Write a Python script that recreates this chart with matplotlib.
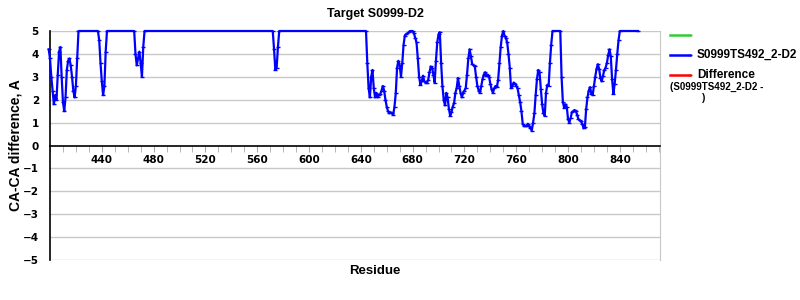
import matplotlib
matplotlib.use('Agg')
import matplotlib.pyplot as plt
from matplotlib.lines import Line2D
from matplotlib.ticker import MultipleLocator

# residue numbers and CA-CA difference
residues = [
    399, 400, 401, 402, 403, 404, 405, 406, 407, 408, 409, 410, 411, 412, 413,
    414, 415, 416, 417, 418, 419, 420, 421, 422,
    437, 438, 439, 440, 441, 442, 443, 444,
    465, 466, 467, 468, 469, 470, 471, 472, 473,
    572, 573, 574, 575, 576, 577,
    644, 645, 646, 647, 648, 649, 650, 651, 652, 653, 654, 655, 656, 657, 658,
    659, 660, 661, 662, 663, 664, 665, 666, 667, 668, 669, 670, 671, 672, 673,
    674, 675, 676, 677, 678, 679, 680, 681, 682, 683, 684, 685, 686, 687, 688,
    689, 690, 691, 692, 693, 694, 695, 696, 697, 698, 699, 700, 701, 702, 703,
    704, 705, 706, 707, 708, 709, 710, 711, 712, 713, 714, 715, 716, 717, 718,
    719, 720, 721, 722, 723, 724, 725, 726, 727, 728, 729, 730, 731, 732, 733,
    734, 735, 736, 737, 738, 739, 740, 741, 742, 743, 744, 745, 746, 747, 748,
    749, 750, 751, 752, 753, 754, 755, 756, 757, 758, 759, 760, 761, 762, 763,
    764, 765, 766, 767, 768, 769, 770, 771, 772, 773, 774, 775, 776, 777, 778,
    779, 780, 781, 782, 783, 784, 785, 786, 787, 788,
    794, 795, 796, 797, 798, 799, 800, 801, 802, 803, 804, 805, 806, 807, 808,
    809, 810, 811, 812, 813, 814, 815, 816, 817, 818, 819, 820, 821, 822, 823,
    824, 825, 826, 827, 828, 829, 830, 831, 832, 833, 834, 835, 836, 837, 838,
    839, 840, 854,
]
ca_diff = [
    4.2, 3.8, 3.0, 2.4, 1.8, 2.2, 2.0, 3.1, 4.1, 4.3, 3.0, 1.9, 1.5, 2.1, 3.3,
    3.7, 3.8, 3.5, 3.0, 2.4, 2.1, 2.6, 3.8, 5.0,
    5.0, 4.6, 3.6, 2.8, 2.2, 2.6, 4.1, 5.0,
    5.0, 4.0, 3.5, 3.8, 4.1, 3.6, 3.0, 4.3, 5.0,
    5.0, 4.2, 3.3, 3.4, 4.3, 5.0,
    5.0, 3.6, 2.5, 2.1, 3.0, 3.3, 2.5, 2.1, 2.3, 2.1, 2.2, 2.25, 2.4, 2.6, 2.4,
    2.0, 1.7, 1.5, 1.4, 1.45, 1.4, 1.35, 1.7, 2.3, 3.4, 3.7, 3.5, 3.0, 3.6, 4.4,
    4.8, 4.85, 4.9, 4.95, 5.0, 5.0, 5.0, 4.9, 4.7, 4.5, 3.8, 3.0, 2.65, 2.8, 3.05,
    2.8, 2.75, 2.75, 2.85, 3.2, 3.45, 3.4, 3.1, 2.75, 3.7, 4.5, 4.85, 4.95, 3.6, 2.6,
    2.0, 1.75, 2.3, 2.1, 1.6, 1.3, 1.45, 1.7, 1.85, 2.3, 2.5, 2.95, 2.6, 2.3, 2.1,
    2.3, 2.4, 2.5, 3.1, 3.8, 4.2, 3.9, 3.55, 3.5, 3.45, 3.0, 2.6, 2.4, 2.3, 2.6,
    2.9, 3.1, 3.2, 3.05, 3.1, 3.0, 2.7, 2.45, 2.3, 2.5, 2.6, 2.55, 2.85, 3.6, 4.3,
    4.8, 5.0, 4.8, 4.7, 4.5, 4.0, 3.4, 2.5, 2.6, 2.75, 2.7, 2.6, 2.5, 2.2, 1.9,
    1.5, 0.95, 0.85, 0.85, 0.85, 0.95, 0.85, 0.75, 0.65, 1.0, 1.4, 2.2, 2.9, 3.3, 3.2,
    2.45, 1.8, 1.4, 1.3, 2.3, 2.65, 2.6, 3.6, 4.4, 5.0,
    5.0, 3.0, 1.9, 1.65, 1.8, 1.7, 1.15, 1.0, 1.2, 1.45, 1.5, 1.55, 1.5, 1.35, 1.15,
    1.1, 1.05, 0.95, 0.75, 0.8, 1.6, 2.1, 2.4, 2.55, 2.25, 2.2, 2.6, 3.0, 3.35, 3.55,
    3.35, 2.95, 2.8, 3.05, 3.3, 3.4, 3.6, 3.95, 4.2, 3.9, 2.9, 2.25, 2.7, 3.3, 4.0,
    4.6, 5.0, 5.0,
]
y_ticks = [-5, -4, -3, -2, -1, 0, 1, 2, 3, 4, 5]
x_ticks = [440, 480, 520, 560, 600, 640, 680, 720, 760, 800, 840]

model_name = 'S0999TS492_2-D2'
title = 'Target S0999-D2'
sans = 'Liberation Sans'

fig = plt.figure(figsize=(8, 3), dpi=100)
ax = fig.add_axes([50 / 800, 1 - 260 / 300, 610 / 800, 229 / 300])

ax.plot(residues, ca_diff, color='#0000ff', linewidth=1.6, marker='_',
        markersize=3.5, markeredgewidth=1, clip_on=False, zorder=3)

ax.set_xlim(400, 871)
ax.set_ylim(-5, 5)

# horizontal grid
for y in y_ticks:
    if y != 0:
        ax.axhline(y, color='#c8c8c8', linewidth=1, zorder=1)

# x axis sits on zero
ax.spines['bottom'].set_position(('data', 0))
ax.spines['bottom'].set_color('black')
ax.spines['bottom'].set_linewidth(1.2)
ax.spines['left'].set_color('black')
ax.spines['left'].set_linewidth(1.2)
ax.spines['top'].set_visible(False)
ax.spines['right'].set_color('#c8c8c8')

ax.xaxis.set_minor_locator(MultipleLocator(10))
ax.set_xticks(x_ticks)
ax.tick_params(axis='x', which='both', direction='out', length=4, color='#aaaaaa',
               labelsize=7.5, pad=3)
ax.set_yticks(y_ticks)
ax.set_yticklabels([str(v).replace('-', '\u2212') for v in y_ticks])
ax.tick_params(axis='y', length=0, labelsize=7.5, pad=8)
for lab in ax.get_xticklabels() + ax.get_yticklabels():
    lab.set_fontweight('bold')

fig.text(375 / 800, 1 - 14 / 300, title, ha='center', va='center',
         fontsize=9, fontweight='bold', family=sans)
fig.text(375 / 800, 1 - 271 / 300, 'Residue', ha='center', va='center',
         fontsize=9.5, fontweight='bold', family=sans)
fig.text(16 / 800, 1 - 145 / 300, 'CA-CA difference, A', ha='center', va='center',
         rotation=90, fontsize=10, fontweight='bold', family=sans)

# legend drawn by hand to the right of the plot
legend_rows = [('#33cc33', '', 35), ('#0000ff', model_name, 55), ('#ff0000', 'Difference', 75)]
for color, label, ypx in legend_rows:
    yf = 1 - ypx / 300
    fig.add_artist(Line2D([670 / 800, 690 / 800], [yf, yf], color=color, linewidth=1.8,
                          marker='_', markersize=3, markevery=[1]))
    if label:
        fig.text(697 / 800, yf, label, ha='left', va='center', fontsize=8.5,
                 fontweight='bold', family=sans)
fig.text(670 / 800, 1 - 87 / 300, '(' + model_name + ' -', ha='left', va='center',
         fontsize=7, fontweight='bold', family=sans)
fig.text(702 / 800, 1 - 98 / 300, ')', ha='left', va='center', fontsize=7,
         fontweight='bold', family=sans)

fig.savefig('out.png', dpi=100)
